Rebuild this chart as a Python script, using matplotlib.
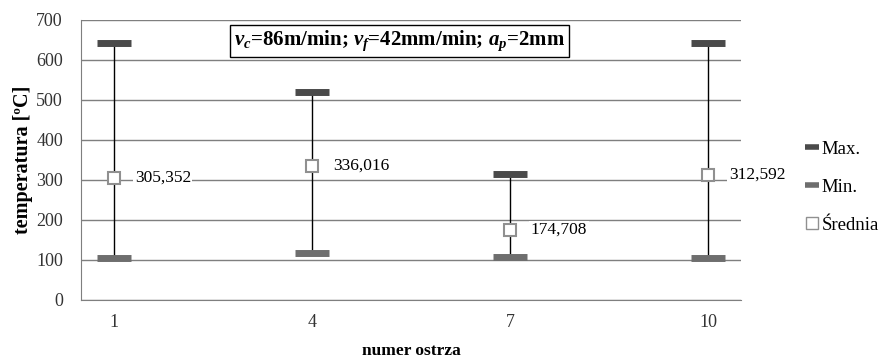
import numpy as np
import matplotlib.pyplot as plt
from matplotlib.lines import Line2D

plt.rcParams['font.family'] = ['Liberation Serif', 'DejaVu Serif']
plt.rcParams['mathtext.fontset'] = 'custom'
plt.rcParams['mathtext.rm'] = 'Liberation Serif:bold'
plt.rcParams['mathtext.it'] = 'Liberation Serif:bold:italic'
plt.rcParams['mathtext.bf'] = 'Liberation Serif:bold'

# data
ostrza = ['1', '4', '7', '10']
t_max = [643, 520, 316, 642]
t_min = [105, 118, 107, 105]
t_sr = [305.352, 336.016, 174.708, 312.592]
sr_labels = ['305,352', '336,016', '174,708', '312,592']

c_max = '#4a4a4a'
c_min = '#6e6e6e'
c_sr = '#909090'

fig = plt.figure(figsize=(8.85, 3.6), dpi=100)
ax = fig.add_axes([81/885, 60/360, 660/885, 280/360])

x = np.arange(len(ostrza))
# high-low lines
ax.vlines(x, t_min, t_max, color='black', lw=1, zorder=2)
ax.plot(x, t_max, ls='none', marker='_', ms=24, mew=5, color=c_max, zorder=3)
ax.plot(x, t_min, ls='none', marker='_', ms=24, mew=5, color=c_min, zorder=3)
ax.plot(x, t_sr, ls='none', marker='s', ms=8, mew=1.5, mfc='white', mec=c_sr, zorder=4)
for xi, yi, lab in zip(x, t_sr, sr_labels):
    ax.annotate(lab, (xi, yi), xytext=(15, 0), textcoords='offset points', va='center', ha='left',
                fontsize=12.5, bbox=dict(facecolor='white', edgecolor='none', pad=1), zorder=5)

ax.set_ylim(0, 700)
ax.set_yticks(range(0, 701, 100))
ax.set_xlim(-1/6, 3 + 1/6)
ax.set_xticks(x)
ax.set_xticklabels(ostrza)
ax.yaxis.grid(True, color='#7f7f7f', lw=1)
ax.set_axisbelow(True)
for s in ['top', 'right']:
    ax.spines[s].set_visible(False)
for s in ['left', 'bottom']:
    ax.spines[s].set_color('#7f7f7f')
ax.tick_params(length=0, labelsize=13, colors='#333333')
ax.tick_params(axis='y', pad=13)
ax.tick_params(axis='x', pad=10)

ax.set_ylabel('temperatura [ºC]', fontweight='bold', fontsize=14.5, labelpad=2)
ax.set_xlabel('numer ostrza', fontweight='bold', fontsize=12.5, labelpad=9)

ax.text(0.483, 0.925, r'$v_c$=86m/min; $v_f$=42mm/min; $a_p$=2mm', transform=ax.transAxes,
        ha='center', va='center', fontsize=15, fontweight='bold',
        bbox=dict(facecolor='white', edgecolor='black', lw=1, pad=3))

handles = [
    Line2D([], [], ls='none', marker='_', ms=10, mew=4, color=c_max),
    Line2D([], [], ls='none', marker='_', ms=10, mew=4, color=c_min),
    Line2D([], [], ls='none', marker='s', ms=9, mew=1, mfc='white', mec=c_sr),
]
fig.legend(handles, ['Max.', 'Min.', 'Średnia'], loc='center left', bbox_to_anchor=(805/885, 0.48),
           frameon=False, fontsize=13.5, handlelength=0.7, handletextpad=0.2, labelspacing=1.1,
           borderpad=0, borderaxespad=0)

fig.savefig('out.png', dpi=100)
